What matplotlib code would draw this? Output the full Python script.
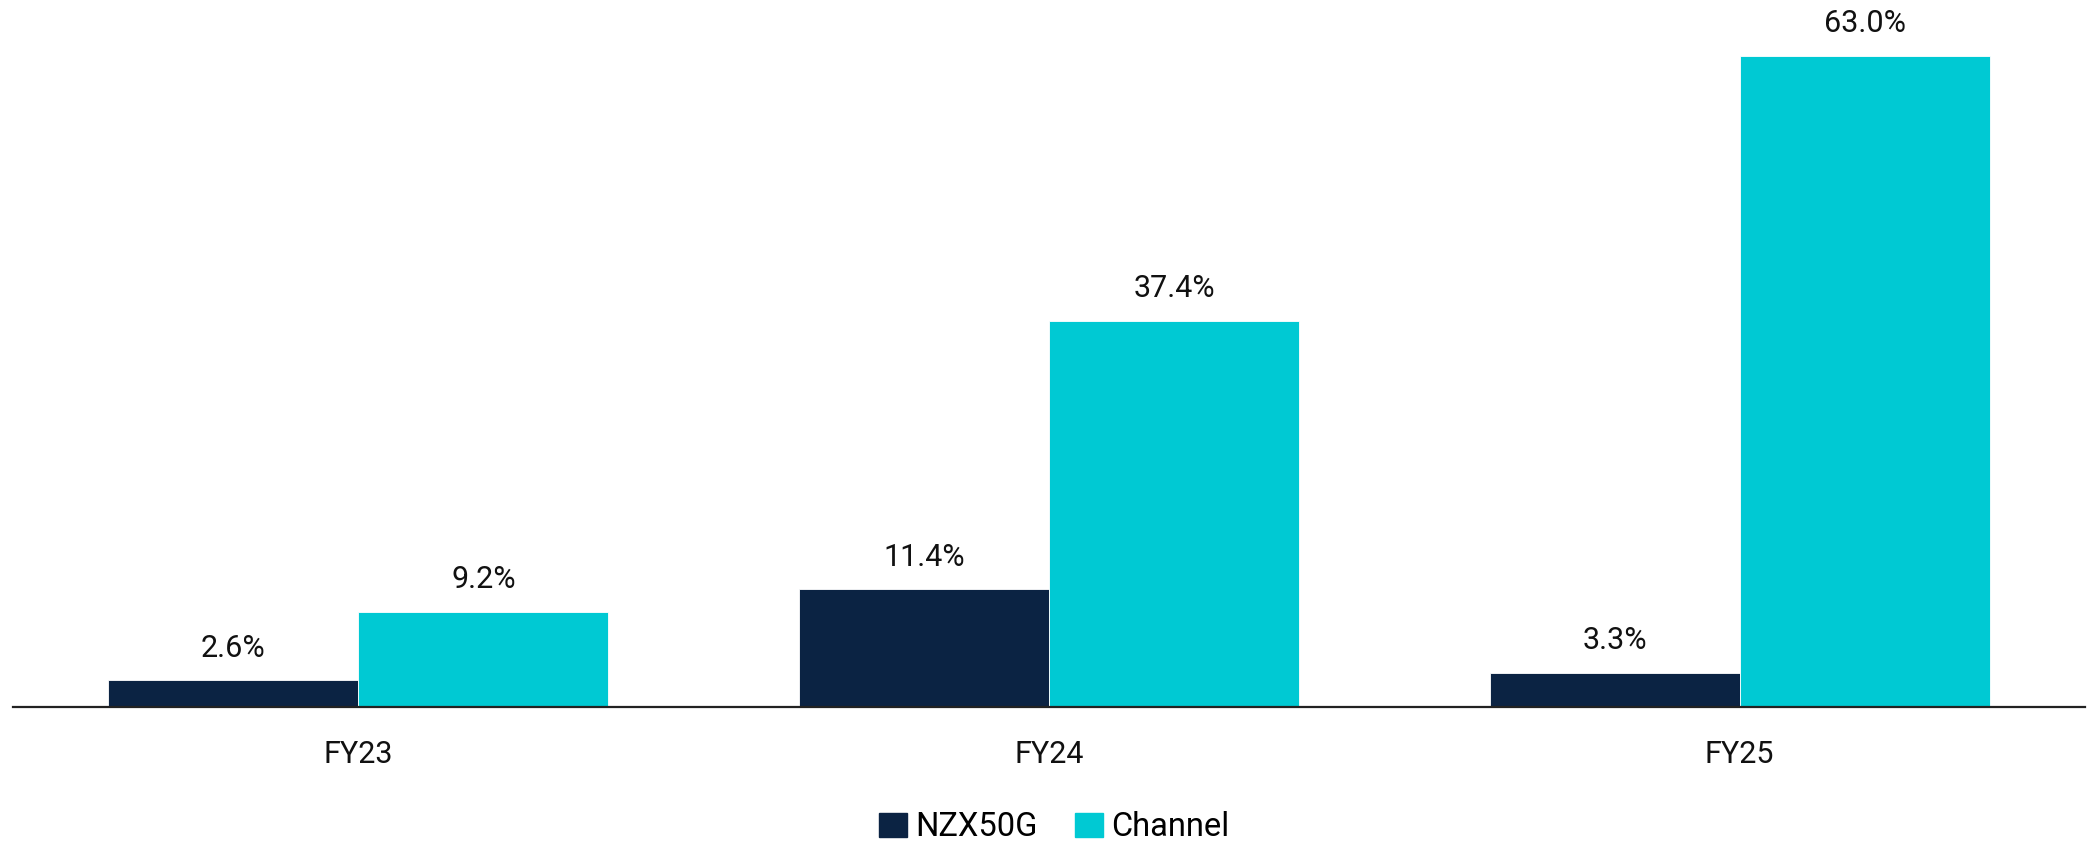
import numpy as np
import matplotlib
matplotlib.use("Agg")
import matplotlib.pyplot as plt
from matplotlib.patches import Patch

plt.rcParams["font.family"] = ["Roboto", "DejaVu Sans"]

categories = ["FY23", "FY24", "FY25"]
nzx50g = [2.6, 11.4, 3.3]
channel = [9.2, 37.4, 63.0]
series_names = ["NZX50G", "Channel"]

NAVY = "#0b2343"
CYAN = "#00c9d3"
FS = 22

W, H = 2088, 843
fig = plt.figure(figsize=(W / 100, H / 100), dpi=100)
ax = fig.add_axes([13 / W, 136 / H, (2085 - 13) / W, 682 / H])

x = np.arange(len(categories))
bw = 0.362
b1 = ax.bar(x - bw / 2, nzx50g, bw, color=NAVY, edgecolor="white", linewidth=0.6)
b2 = ax.bar(x + bw / 2, channel, bw, color=CYAN, edgecolor="white", linewidth=0.6)

# value labels above each bar
for bars, vals in ((b1, nzx50g), (b2, channel)):
    for r, v in zip(bars, vals):
        ax.annotate(f"{v:.1f}%", (r.get_x() + r.get_width() / 2, v),
                    xytext=(0, 17), textcoords="offset points",
                    ha="center", va="baseline", fontsize=FS, color="#111111")

ax.set_xlim(-0.5, 2.5)
ax.set_ylim(0, 66)
ax.set_xticks(x)
ax.set_xticklabels(categories, fontsize=FS, color="#111111")
ax.tick_params(axis="x", length=0, pad=24)
ax.set_yticks([])
for s in ("top", "right", "left"):
    ax.spines[s].set_visible(False)
ax.spines["bottom"].set_color("#222222")
ax.spines["bottom"].set_linewidth(1.6)

handles = [Patch(color=NAVY), Patch(color=CYAN)]
fig.legend(handles, series_names, loc="center",
           bbox_to_anchor=(1054 / W, 16 / H), ncol=2, frameon=False,
           fontsize=23.5, handlelength=0.85, handleheight=0.75,
           handletextpad=0.25, columnspacing=1.15)

fig.savefig("out.png", dpi=100)
